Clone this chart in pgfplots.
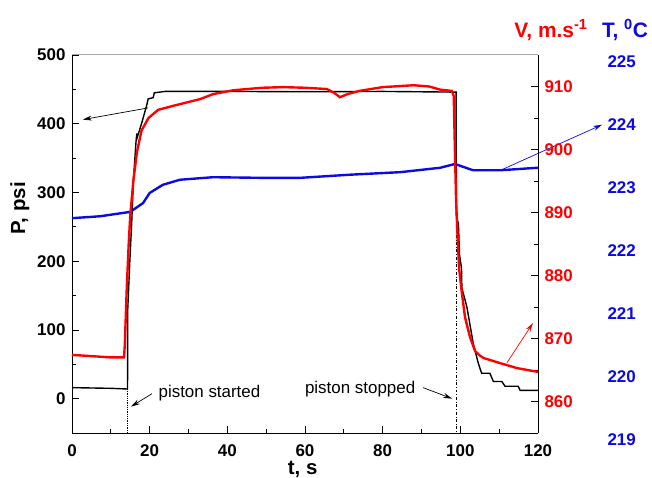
\documentclass[border=0pt]{standalone}
\usepackage{fontspec}
\setmainfont{Liberation Sans}
\usepackage{pgfplots}
\pgfplotsset{compat=1.18}
\usetikzlibrary{arrows.meta}

\definecolor{vred}{RGB}{255,0,0}
\definecolor{tblue}{RGB}{10,10,225}

\pgfplotsset{
  base/.style={
    scale only axis, width=466bp, height=378bp,
    at={(0,0)}, anchor=south west,
    xmin=0, xmax=120,
    tick align=inside,
    major tick length=7bp, minor tick length=4bp,
    tick style={black, line width=0.8pt},
    axis line style={line width=1pt},
    ticklabel style={font=\fontsize{17}{17}\selectfont\bfseries},
    /pgf/number format/assume math mode=true,
  },
}
\tikzset{arr/.style={line width=0.7pt, -{Stealth[length=9bp,width=5bp]}}}

\begin{document}
\begin{tikzpicture}
\useasboundingbox (-72bp,-45bp) rectangle (580bp,433bp);

% pressure, left axis
\begin{axis}[
  base,
  ymin=-50, ymax=500,
  axis x line*=bottom, axis y line*=left,
  xtick={0,20,...,120}, minor x tick num=1,
  ytick={0,100,...,500}, minor y tick num=1,
  xticklabel style={inner sep=0pt, text height=12bp, text depth=0pt, yshift=-11bp},
  yticklabel style={xshift=-3bp},
  clip=false,
  xlabel={t, s},
  ylabel={P, psi},
  label style={font=\fontsize{20.5}{20.5}\selectfont\bfseries, inner sep=0pt},
  xlabel style={at={(rel axis cs:0.495,-0.0952)}, anchor=center, text height=14bp, text depth=3bp},
  ylabel style={at={(rel axis cs:-0.112,0.595)}, anchor=center},
]
\draw[gray!70, line width=1pt] (rel axis cs:0,1) -- (rel axis cs:1,1);
\addplot[black, line width=1.4pt] coordinates {
(0,16) (5,15.5) (10,15) (14.3,14) (14.35,129) (14.9,201) (15.4,259)
(15.8,317) (16.5,375) (16.7,386) (16.8,380) (17.9,400) (19.2,426)
(19.6,436) (20.9,438) (21.2,445) (24,447) (40,447) (60,446.5)
(80,447) (98.7,446) (98.9,446) (99.0,264) (99.5,255) (99.8,209)
(100.3,190) (100.4,161) (101.7,133) (103.3,81) (104.6,52) (105.3,40)
(105.5,37) (107.6,37) (108.5,25) (110.7,25) (111.5,18) (114.9,18)
(115.4,12) (120,12)
};
\draw[densely dotted, line width=0.8pt] (axis cs:14.3,14) -- (axis cs:14.3,-50);
\draw[dash dot, line width=0.8pt] (axis cs:99.05,260) -- (axis cs:99.05,-50);
\node[font=\fontsize{17}{17}\selectfont] at (axis cs:35.4,8.7) {piston started};
\node[font=\fontsize{17}{17}\selectfont] at (axis cs:74.2,14.5) {piston stopped};
\draw[arr] (axis cs:20.6,7.2) -- (axis cs:15.2,-11.6);
\draw[arr] (axis cs:90.4,16) -- (axis cs:97.9,0);
\draw[arr] (axis cs:19.6,423) -- (axis cs:2.8,406);
\draw[arr, tblue] (axis cs:110.2,331.9) -- (axis cs:136.5,398.6);
\draw[arr, vred] (axis cs:112,52.2) -- (axis cs:118.7,110);
\end{axis}

% temperature, labels only
\begin{axis}[
  base,
  ymin=219, ymax=225,
  axis x line=none, axis y line*=right,
  y axis line style={draw=none},
  ytick={219,220,...,225},
  major tick length=0pt,
  yticklabel style={tblue, xshift=66bp, yshift=-7bp},
  clip=false,
]
\addplot[tblue, line width=2.4pt] coordinates {
(0,222.41) (7.2,222.44) (15,222.51) (18.3,222.65) (20,222.81)
(23.4,222.94) (27.8,223.02) (36.3,223.06) (49.2,223.05) (58.7,223.05)
(71.6,223.10) (84.5,223.14) (94.8,223.21) (98.6,223.27) (103.3,223.17)
(110.2,223.17) (119.8,223.21) (120,223.2)
};
\node[tblue, font=\fontsize{21}{21}\selectfont\bfseries] at (rel axis cs:1,1) [xshift=87bp, yshift=25bp] {T, \textsuperscript{0}C};
\end{axis}

% velocity, right axis
\begin{axis}[
  base,
  ymin=855, ymax=915,
  axis x line=none, axis y line*=right,
  ytick={860,870,...,910}, minor y tick num=1,
  yticklabel style={vred, xshift=3bp},
  clip=false,
]
\addplot[vred, line width=2.4pt] coordinates {
(0,867.4) (5,867.2) (10,867.0) (13.4,867.0) (13.6,869) (14.1,878)
(14.6,885) (15.0,889.5) (15.8,895) (16.7,899.5) (17.9,903) (19.7,905)
(22.2,906.3) (26.5,907) (30.4,907.6) (33,908) (36.4,908.8) (41.5,909.4)
(49,909.8) (54.4,909.9) (60,909.8) (65.6,909.6) (67.5,909.0) (69,908.3)
(71,908.8) (74,909.3) (80,909.9) (88,910.2) (92,910.0) (94.8,909.5)
(97.8,909.3) (98.3,908.5) (98.6,900) (98.9,892) (99.3,886) (99.7,881)
(100.4,877.2) (101.2,873.4) (102.5,870.2) (103.8,868) (105,867.3)
(106,866.9) (110.2,866.1) (114.6,865.3) (120,864.7)
};
\node[vred, font=\fontsize{21}{21}\selectfont\bfseries] at (rel axis cs:1,1) [xshift=13bp, yshift=25bp] {V, m.s\textsuperscript{-1}};
\end{axis}
\end{tikzpicture}
\end{document}
